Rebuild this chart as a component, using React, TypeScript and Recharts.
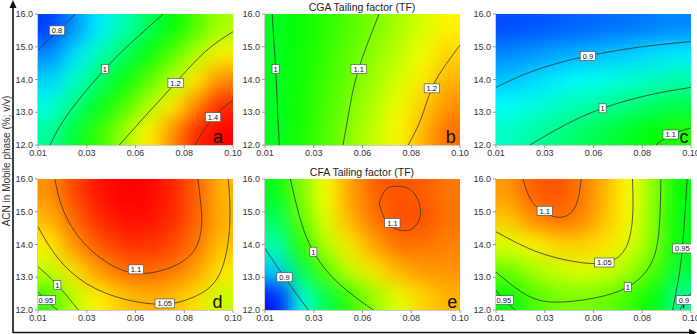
import { ComposedChart, Scatter, XAxis, YAxis } from 'recharts';

// Axis ticks shared by all six response surfaces
const X_TICKS = [0.01, 0.0325, 0.055, 0.0775, 0.1];
const X_TICK_LABELS = ['0.01', '0.03', '0.06', '0.08', '0.10'];
const Y_TICKS = [12, 13, 14, 15, 16];

// Centres of the shading cells (8 columns x 5 rows)
const GRID_X = [0.015625, 0.026875, 0.038125, 0.049375, 0.060625, 0.071875, 0.083125, 0.094375];
const GRID_Y = [12.4, 13.2, 14.0, 14.8, 15.6];

// Tailing factor per cell, rows from bottom (12.4) to top (15.6)
const TF_A = [
  [0.977, 1.043, 1.11, 1.176, 1.242, 1.308, 1.375, 1.441],
  [0.93, 0.993, 1.058, 1.121, 1.185, 1.248, 1.313, 1.376],
  [0.883, 0.944, 1.005, 1.066, 1.128, 1.189, 1.25, 1.311],
  [0.836, 0.894, 0.953, 1.011, 1.071, 1.129, 1.188, 1.246],
  [0.788, 0.844, 0.901, 0.957, 1.013, 1.069, 1.126, 1.182],
];
const TF_B = [
  [1.0, 1.034, 1.068, 1.104, 1.141, 1.18, 1.221, 1.263],
  [1.0, 1.032, 1.063, 1.096, 1.13, 1.166, 1.204, 1.243],
  [1.0, 1.029, 1.057, 1.087, 1.118, 1.151, 1.186, 1.222],
  [1.0, 1.027, 1.052, 1.079, 1.107, 1.137, 1.169, 1.202],
  [1.0, 1.024, 1.046, 1.07, 1.095, 1.122, 1.151, 1.181],
];
const TF_C = [
  [0.967, 0.986, 1.005, 1.024, 1.043, 1.062, 1.081, 1.1],
  [0.932, 0.947, 0.963, 0.978, 0.993, 1.009, 1.024, 1.039],
  [0.896, 0.908, 0.92, 0.932, 0.943, 0.955, 0.967, 0.979],
  [0.86, 0.868, 0.877, 0.885, 0.894, 0.902, 0.911, 0.919],
  [0.824, 0.829, 0.834, 0.839, 0.844, 0.849, 0.854, 0.859],
];
const TF_D = [
  [0.955, 1.014, 1.045, 1.065, 1.073, 1.069, 1.053, 1.015],
  [1.013, 1.054, 1.083, 1.101, 1.106, 1.099, 1.081, 1.05],
  [1.047, 1.086, 1.112, 1.127, 1.129, 1.12, 1.099, 1.066],
  [1.071, 1.107, 1.131, 1.144, 1.144, 1.132, 1.109, 1.073],
  [1.087, 1.12, 1.142, 1.151, 1.149, 1.135, 1.109, 1.071],
];
const TF_E = [
  [0.82, 0.9, 0.945, 0.985, 1.015, 1.04, 1.06, 1.07],
  [0.875, 0.945, 0.995, 1.03, 1.055, 1.07, 1.078, 1.08],
  [0.915, 0.98, 1.025, 1.055, 1.075, 1.09, 1.09, 1.085],
  [0.94, 0.998, 1.04, 1.07, 1.09, 1.102, 1.1, 1.09],
  [0.962, 1.008, 1.045, 1.075, 1.095, 1.1, 1.097, 1.088],
];
const TF_F = [
  [0.962, 0.99, 1.004, 1.006, 1.0, 0.985, 0.962, 0.915],
  [1.0, 1.02, 1.033, 1.04, 1.035, 1.02, 0.99, 0.945],
  [1.04, 1.055, 1.065, 1.067, 1.06, 1.04, 1.008, 0.958],
  [1.07, 1.09, 1.1, 1.093, 1.072, 1.048, 1.008, 0.96],
  [1.085, 1.105, 1.11, 1.097, 1.075, 1.05, 1.011, 0.963],
];

// Contour lines as [x, y] pairs
type Pt = [number, number];

const CONTOURS_A: Pt[][] = [
  [[0.01, 14.9], [0.019, 15.48], [0.0271, 16]],
  [[0.0155, 12], [0.0244, 13], [0.0409, 14.32], [0.053, 15.12], [0.0677, 16]],
  [[0.0475, 12], [0.0604, 12.95], [0.0735, 13.9], [0.087, 14.84], [0.1, 15.46]],
  [[0.0825, 12], [0.0908, 12.84], [0.1, 13.36]],
];
const CONTOURS_B: Pt[][] = [
  [[0.0166, 12], [0.0157, 13.2], [0.0149, 14.32], [0.0133, 16]],
  [[0.046, 12], [0.0487, 13], [0.0532, 14.32], [0.0627, 16]],
  [[0.0761, 12], [0.082, 12.8], [0.087, 13.73], [0.0937, 14.48], [0.1, 15.05]],
];
const CONTOURS_C: Pt[][] = [
  [[0.01, 13.76], [0.028, 14.28], [0.0523, 14.72], [0.0775, 15.0], [0.1, 15.16]],
  [[0.0256, 12], [0.0415, 12.6], [0.0592, 13.12], [0.0802, 13.52], [0.1, 13.76]],
  [[0.0838, 12], [0.091, 12.32], [0.1, 12.52]],
];
const CONTOURS_D: Pt[][] = [
  [[0.0178, 16], [0.0217, 15.04], [0.0307, 14.08], [0.0442, 13.36], [0.06, 13.12], [0.0784, 13.56], [0.0852, 14.4], [0.0852, 15.2], [0.0838, 16]],
  [[0.01, 14.54], [0.019, 13.6], [0.0325, 12.8], [0.0505, 12.32], [0.0685, 12.18], [0.082, 12.4], [0.0937, 13.08], [0.0985, 14.6], [0.0978, 16]],
  [[0.01, 13.32], [0.019, 12.76], [0.0286, 12]],
  [[0.01, 12.56], [0.0136, 12.3], [0.019, 12]],
];
const CONTOURS_E: Pt[][] = [
  [[0.0627, 15.26], [0.0658, 15.68], [0.0716, 15.78], [0.0784, 15.6], [0.0818, 15.0], [0.0793, 14.56], [0.0742, 14.42], [0.0667, 14.64], [0.0627, 15.26]],
  [[0.0217, 16], [0.0258, 14.88], [0.0323, 13.78], [0.0442, 12.8], [0.06, 12]],
  [[0.01, 13.88], [0.019, 13.0], [0.03, 12]],
];
const CONTOURS_F: Pt[][] = [
  [[0.0225, 16], [0.028, 15.2], [0.0394, 14.83], [0.0469, 15.2], [0.0493, 16]],
  [[0.01, 14.39], [0.028, 13.8], [0.046, 13.48], [0.06, 13.44], [0.0694, 13.84], [0.073, 14.8], [0.073, 16]],
  [[0.01, 13.16], [0.0235, 12.48], [0.037, 12.24], [0.055, 12.36], [0.0708, 12.7], [0.0811, 13.36], [0.0852, 14.4], [0.0861, 16]],
  [[0.01, 12.6], [0.0136, 12.3], [0.019, 12]],
  [[0.0982, 16], [0.096, 13.88], [0.0937, 12.76], [0.0915, 12]],
  [[0.095, 12], [0.0973, 12.32], [0.1, 12.52]],
];

// Contour level tags
interface Tag { x: number; y: number; text: string }
const TAGS_A: Tag[] = [
  { x: 0.0188, y: 15.5, text: '0.8' },
  { x: 0.0409, y: 14.32, text: '1' },
  { x: 0.0735, y: 13.9, text: '1.2' },
  { x: 0.0908, y: 12.85, text: '1.4' },
];
const TAGS_B: Tag[] = [
  { x: 0.0149, y: 14.32, text: '1' },
  { x: 0.0532, y: 14.32, text: '1.1' },
  { x: 0.087, y: 13.73, text: '1.2' },
];
const TAGS_C: Tag[] = [
  { x: 0.0524, y: 14.72, text: '0.9' },
  { x: 0.0592, y: 13.12, text: '1' },
  { x: 0.0906, y: 12.32, text: '1.1' },
];
const TAGS_D: Tag[] = [
  { x: 0.0552, y: 13.24, text: '1.1' },
  { x: 0.0685, y: 12.2, text: '1.05' },
  { x: 0.0189, y: 12.76, text: '1' },
  { x: 0.0136, y: 12.3, text: '0.95' },
];
const TAGS_E: Tag[] = [
  { x: 0.0688, y: 14.66, text: '1.1' },
  { x: 0.0323, y: 13.78, text: '1' },
  { x: 0.019, y: 13.0, text: '0.9' },
];
const TAGS_F: Tag[] = [
  { x: 0.0325, y: 15.03, text: '1.1' },
  { x: 0.06, y: 13.45, text: '1.05' },
  { x: 0.0708, y: 12.7, text: '1' },
  { x: 0.0136, y: 12.3, text: '0.95' },
  { x: 0.096, y: 13.88, text: '0.95' },
  { x: 0.0967, y: 12.3, text: '0.9' },
];

// Colour range of each surface [low, high]
const RANGE_A = [0.75, 1.4];
const RANGE_B = [0.71, 1.33];
const RANGE_C = [0.78, 1.38];
const RANGE_D = [0.71, 1.15];
const RANGE_E = [0.813, 1.125];
const RANGE_F = [0.794, 1.137];

const LETTERS = ['a', 'b', 'c', 'd', 'e', 'f'];
const LETTER_X = [0.0931, 0.0957, 0.0968, 0.0928, 0.0964, 0.0966];

const CHART_W = 235;
const CHART_H = 165;
const Y_AXIS_W = 38;
const X_AXIS_H = 20;
const MARGIN = { top: 14, right: 2, left: 0, bottom: 0 };
const PLOT_W = CHART_W - Y_AXIS_W - MARGIN.right;
const PLOT_H = CHART_H - MARGIN.top - X_AXIS_H;
const CELL_W = PLOT_W / GRID_X.length;
const CELL_H = PLOT_H / GRID_Y.length;
const COL_LEFT = [0, 227, 458];
const ROW_TOP = [0, 165];

const RAMP: [number, number, number][] = [
  [0, 0, 255],
  [0, 255, 255],
  [0, 255, 0],
  [255, 255, 0],
  [255, 0, 0],
];

function rampColor(value: number, lo: number, hi: number) {
  const t = Math.min(1, Math.max(0, (value - lo) / (hi - lo))) * 4;
  const i = Math.min(3, Math.floor(t));
  const f = t - i;
  const a = RAMP[i];
  const b = RAMP[i + 1];
  const c = a.map((v, k) => Math.round(v + (b[k] - v) * f));
  return `rgb(${c[0]},${c[1]},${c[2]})`;
}

interface PanelSpec {
  values: number[][];
  range: number[];
  contours: Pt[][];
  tags: Tag[];
  letter: string;
  letterX: number;
}

const PANELS: PanelSpec[] = [
  { values: TF_A, range: RANGE_A, contours: CONTOURS_A, tags: TAGS_A, letter: LETTERS[0], letterX: LETTER_X[0] },
  { values: TF_B, range: RANGE_B, contours: CONTOURS_B, tags: TAGS_B, letter: LETTERS[1], letterX: LETTER_X[1] },
  { values: TF_C, range: RANGE_C, contours: CONTOURS_C, tags: TAGS_C, letter: LETTERS[2], letterX: LETTER_X[2] },
  { values: TF_D, range: RANGE_D, contours: CONTOURS_D, tags: TAGS_D, letter: LETTERS[3], letterX: LETTER_X[3] },
  { values: TF_E, range: RANGE_E, contours: CONTOURS_E, tags: TAGS_E, letter: LETTERS[4], letterX: LETTER_X[4] },
  { values: TF_F, range: RANGE_F, contours: CONTOURS_F, tags: TAGS_F, letter: LETTERS[5], letterX: LETTER_X[5] },
];

function ContourTag(props: any) {
  const { cx, cy, payload } = props;
  const w = payload.text.length * 4.1 + 3;
  return (
    <g>
      <rect x={cx - w / 2} y={cy - 4.5} width={w} height={9} fill="#fff" stroke="#444" strokeWidth={0.6} />
      <text x={cx} y={cy + 2.8} textAnchor="middle" fontSize={7.5} fill="#111">
        {payload.text}
      </text>
    </g>
  );
}

function PanelLetter(props: any) {
  const { cx, cy, payload } = props;
  return (
    <text x={cx} y={cy + 6} textAnchor="middle" fontSize={18} fill="#111">
      {payload.text}
    </text>
  );
}

const NoMarker = () => <g />;

function SurfacePanel({ panel, left, top }: { panel: PanelSpec; left: number; top: number }) {
  const [lo, hi] = panel.range;
  const cells = panel.values.flatMap((row, j) =>
    row.map((v, i) => ({ x: GRID_X[i], y: GRID_Y[j], v })),
  );

  return (
    <div style={{ position: 'absolute', left, top }}>
      <ComposedChart width={CHART_W} height={CHART_H} margin={MARGIN}>
        <XAxis
          type="number"
          dataKey="x"
          domain={[0.01, 0.1]}
          ticks={X_TICKS}
          interval={0}
          allowDataOverflow
          height={X_AXIS_H}
          tickSize={3}
          stroke="#999"
          tick={{ fontSize: 9, fill: '#333' }}
          tickFormatter={(v: number) => X_TICK_LABELS[X_TICKS.indexOf(v)]}
        />
        <YAxis
          type="number"
          dataKey="y"
          domain={[12, 16]}
          ticks={Y_TICKS}
          interval={0}
          allowDataOverflow
          width={Y_AXIS_W}
          tickSize={3}
          stroke="#999"
          tick={{ fontSize: 9, fill: '#333' }}
          tickFormatter={(v: number) => v.toFixed(1)}
        />
        <Scatter
          className="heat"
          data={cells}
          dataKey="y"
          isAnimationActive={false}
          shape={(p: any) => (
            <rect
              x={p.cx - CELL_W / 2 - 0.3}
              y={p.cy - CELL_H / 2 - 0.3}
              width={CELL_W + 0.6}
              height={CELL_H + 0.6}
              fill={rampColor(p.payload.v, lo, hi)}
            />
          )}
        />
        {panel.contours.map((pts, k) => (
          <Scatter
            key={k}
            data={pts.map(([x, y]) => ({ x, y }))}
            dataKey="y"
            line={{ stroke: '#333', strokeWidth: 0.8 }}
            lineType="joint"
            lineJointType="natural"
            shape={NoMarker}
            isAnimationActive={false}
          />
        ))}
        <Scatter
          data={[{ x: panel.letterX, y: 12.24, text: panel.letter }]}
          dataKey="y"
          isAnimationActive={false}
          shape={PanelLetter}
        />
        <Scatter data={panel.tags} dataKey="y" isAnimationActive={false} shape={ContourTag} />
      </ComposedChart>
    </div>
  );
}

export default function App() {
  return (
    <div
      style={{
        position: 'relative',
        width: 697,
        height: 334,
        background: '#fff',
        fontFamily: '"Liberation Sans", Arial, sans-serif',
        overflow: 'hidden',
      }}
    >
      <style>{`
        body { margin: 0; }
        .recharts-surface { overflow: visible; }
        .heat { filter: url(#heat-smooth); }
      `}</style>
      <svg width={0} height={0} style={{ position: 'absolute' }}>
        <defs>
          <filter id="heat-smooth" x="0" y="0" width="1" height="1" colorInterpolationFilters="sRGB">
            <feGaussianBlur stdDeviation={10} />
            <feComponentTransfer>
              <feFuncA type="linear" slope={40} intercept={0} />
            </feComponentTransfer>
          </filter>
        </defs>
      </svg>
      {PANELS.map((panel, k) => (
        <SurfacePanel key={k} panel={panel} left={COL_LEFT[k % 3]} top={ROW_TOP[Math.floor(k / 3)]} />
      ))}
      <svg
        width={697}
        height={334}
        style={{ position: 'absolute', left: 0, top: 0, pointerEvents: 'none' }}
      >
        <line x1={13} y1={333} x2={13} y2={6} stroke="#111" strokeWidth={1.6} />
        <polygon points="13,0 9.5,8 16.5,8" fill="#111" />
        <line x1={13} y1={332.5} x2={690} y2={332.5} stroke="#111" strokeWidth={1.6} />
        <polygon points="697,332.5 689,329 689,336" fill="#111" />
        <text transform="translate(9.5,161) rotate(-90)" textAnchor="middle" fontSize={10} fill="#333">
          ACN in Mobile phase (%; v/v)
        </text>
        <text x={362} y={11} textAnchor="middle" fontSize={10.5} fill="#222">
          CGA Tailing factor (TF)
        </text>
        <text x={362} y={175.5} textAnchor="middle" fontSize={10.5} fill="#222">
          CFA Tailing factor (TF)
        </text>
      </svg>
    </div>
  );
}
